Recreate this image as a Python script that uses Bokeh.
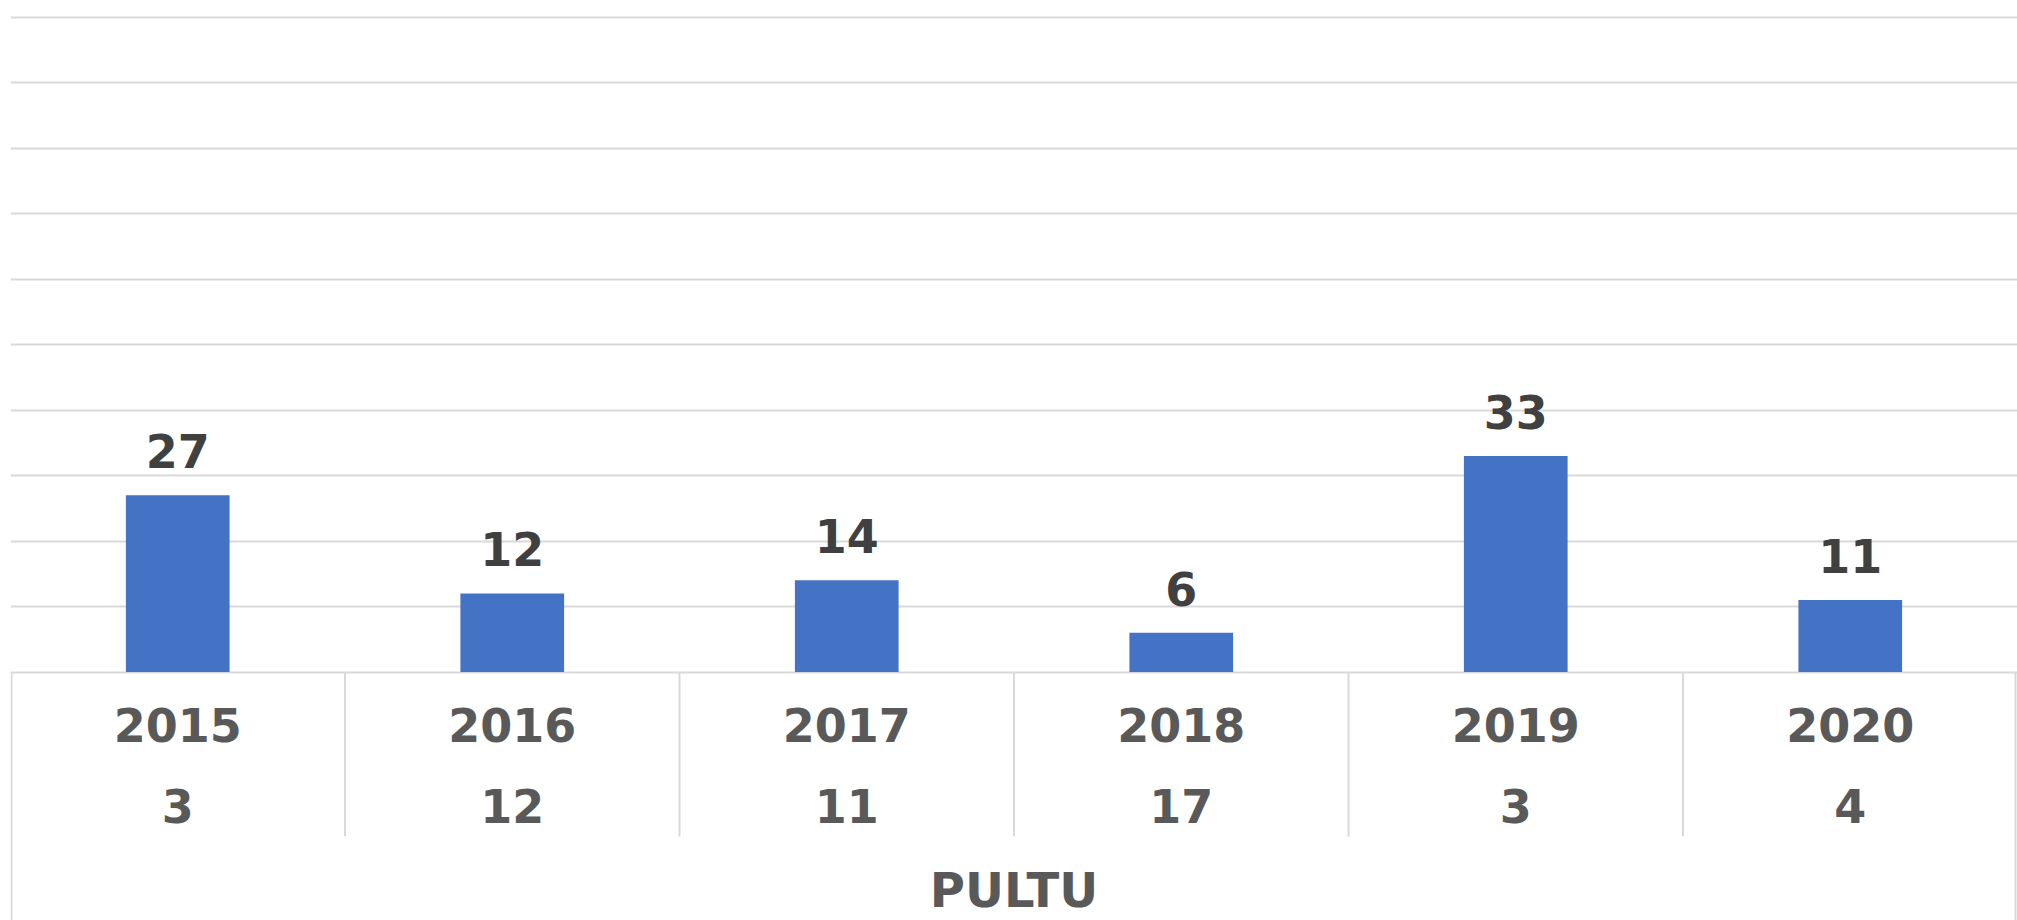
from bokeh.plotting import figure
from bokeh.models import Range1d, FixedTicker, Grid, ColumnDataSource
from bokeh.core.properties import value
from bokeh.embed import file_html
from bokeh.resources import INLINE

# ---- data ----
years = ["2015", "2016", "2017", "2018", "2019", "2020"]
bar_values = [27, 12, 14, 6, 33, 11]
pultu_values = [3, 12, 11, 17, 3, 4]
group_label = "PULTU"
grid_ticks = list(range(0, 101, 10))

FONT = value("DejaVu Sans")
BAR_COLOR = "#4472C4"
LINE_COLOR = "#D9D9D9"
Y0, Y1 = -37.95, 102.55
TXT_SHIFT = -19  # screen px correction for svg baseline

p = figure(
    x_range=years,
    y_range=Range1d(Y0, Y1),
    width=2017, height=920,
    output_backend="svg", toolbar_location=None,
    x_axis_location=None, y_axis_location=None,
    min_border_left=10, min_border_right=0, min_border_top=0, min_border_bottom=0,
)
p.outline_line_color = None
p.grid.visible = False
p.x_range.range_padding = 0

grid = Grid(dimension=1, ticker=FixedTicker(ticks=grid_ticks),
            grid_line_color=LINE_COLOR, grid_line_width=2)
p.add_layout(grid, "center")

# bars
src = ColumnDataSource(dict(x=years, top=bar_values,
                            label=[str(v) for v in bar_values]))
p.vbar(x="x", top="top", width=0.31, source=src, fill_color=BAR_COLOR,
       line_color=None)

# data labels
p.text(x="x", y="top", text="label", source=src, y_offset=-25 + TXT_SHIFT,
       text_align="center", text_baseline="alphabetic",
       text_font=FONT, text_font_style="bold", text_font_size="46px",
       text_color="#404040")

# table below the chart
row1_y = -11.07
row2_y = -23.4
group_y = -36.27
divider_bottom = -25.1

p.text(x=years, y=[row1_y] * len(years), text=years, y_offset=TXT_SHIFT,
       text_align="center", text_baseline="alphabetic",
       text_font=FONT, text_font_style="bold", text_font_size="46px",
       text_color="#595959")
p.text(x=years, y=[row2_y] * len(years), text=[str(v) for v in pultu_values],
       y_offset=TXT_SHIFT,
       text_align="center", text_baseline="alphabetic",
       text_font=FONT, text_font_style="bold", text_font_size="46px",
       text_color="#595959")

# inner dividers
inner = [(y, 0.5) for y in years[:-1]]
p.segment(x0=inner, y0=[0] * len(inner), x1=inner, y1=[divider_bottom] * len(inner),
          line_color=LINE_COLOR, line_width=2)
# outer borders
outer = [(years[0], -0.497), (years[-1], 0.494)]
p.segment(x0=outer, y0=[0, 0], x1=outer, y1=[Y0, Y0],
          line_color=LINE_COLOR, line_width=2)

# group label centred under all categories
mid = [(years[2], 0.5)]
p.text(x=mid, y=[group_y], text=[group_label], y_offset=TXT_SHIFT,
       text_align="center", text_baseline="alphabetic",
       text_font=FONT, text_font_style="bold", text_font_size="48px",
       text_color="#595959")

open("out.html", "w").write(file_html(p, INLINE))
